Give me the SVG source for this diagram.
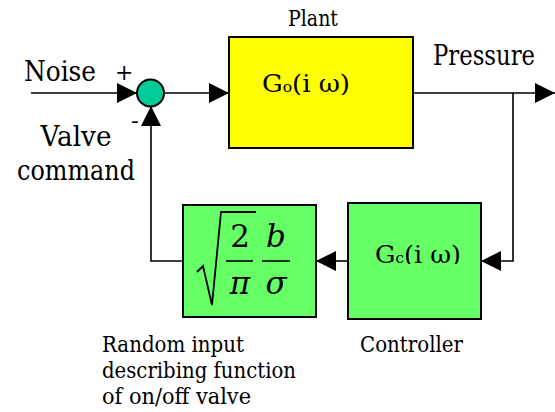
<svg xmlns="http://www.w3.org/2000/svg" width="555" height="412" viewBox="0 0 555 412">
<style>
.box{stroke:#000;stroke-width:2}
.ln{fill:none;stroke:#000;stroke-width:1.6}
.m{font-style:italic;font-size:31px;text-anchor:middle}
</style>
<defs>
<marker id="ah" viewBox="0 0 20 20" refX="20" refY="10" markerWidth="20" markerHeight="20" markerUnits="userSpaceOnUse" orient="auto">
<path d="M0,0 L20,10 L0,20 z" fill="#000"/>
</marker>
<clipPath id="c1"><rect x="229" y="37" width="184" height="58"/></clipPath>
<clipPath id="c2"><rect x="348" y="203" width="133" height="61"/></clipPath>
</defs>
<rect width="555" height="412" fill="#fff"/>
<g id="connectors">
<path class="ln" d="M31,93 L137,93" marker-end="url(#ah)"/>
<path class="ln" d="M164,93 L229,93" marker-end="url(#ah)"/>
<path class="ln" d="M413,93 L555,93" marker-end="url(#ah)"/>
<path class="ln" d="M513,93 L513,261 L481,261" marker-end="url(#ah)"/>
<path class="ln" d="M348,261 L316,261" marker-end="url(#ah)"/>
<path class="ln" d="M183,261 L151,261 L151,106" marker-end="url(#ah)"/>
</g>
<g font-family="DejaVu Serif, serif" fill="#000">
<g id="sum">
<circle cx="150.5" cy="93" r="13.5" fill="#00CC99" stroke="#000" stroke-width="2"/>
<text x="115" y="80" font-size="22">+</text>
<text x="131" y="128" font-size="23">-</text>
</g>
<g id="plant">
<rect class="box" x="229" y="37" width="184" height="111" fill="#FFFF00"/>
<text x="288" y="26" font-size="22" textLength="50" lengthAdjust="spacingAndGlyphs">Plant</text>
<text x="262" y="92" font-size="25" textLength="88" lengthAdjust="spacingAndGlyphs" clip-path="url(#c1)">G<tspan font-size="15">o</tspan>(i ω)</text>
</g>
<g id="controller">
<rect class="box" x="348" y="203" width="133" height="116" fill="#66FF66"/>
<text x="375" y="263" font-size="23.5" textLength="86" lengthAdjust="spacingAndGlyphs" clip-path="url(#c2)">G<tspan font-size="14">c</tspan>(i ω)</text>
</g>
<g id="describing">
<rect class="box" x="183" y="205" width="133" height="112" fill="#66FF66"/>
<path d="M197,272 L203,266 L212,305 L221,212 L256,212" fill="none" stroke="#000" stroke-width="1.8"/>
<text x="240" y="247" font-size="31" text-anchor="middle">2</text>
<line x1="226" y1="261" x2="253" y2="261" stroke="#000" stroke-width="1.6"/>
<text class="m" x="240" y="294">π</text>
<text class="m" x="276" y="247">b</text>
<line x1="262" y1="261" x2="290" y2="261" stroke="#000" stroke-width="1.6"/>
<text class="m" x="276" y="294">σ</text>
</g>
<g id="labels">
<text x="24" y="81" font-size="27" textLength="72" lengthAdjust="spacingAndGlyphs">Noise</text>
<text x="433" y="65" font-size="27" textLength="102" lengthAdjust="spacingAndGlyphs">Pressure</text>
<text x="40.5" y="146" font-size="27" textLength="71" lengthAdjust="spacingAndGlyphs">Valve</text>
<text x="17" y="180" font-size="27" textLength="118" lengthAdjust="spacingAndGlyphs">command</text>
<text x="102" y="352" font-size="22.5" textLength="142" lengthAdjust="spacingAndGlyphs">Random input</text>
<text x="102" y="378" font-size="22.5" textLength="194" lengthAdjust="spacingAndGlyphs">describing function</text>
<text x="102" y="404" font-size="22.5" textLength="149" lengthAdjust="spacingAndGlyphs">of on/off valve</text>
<text x="360" y="352" font-size="22.5" textLength="103" lengthAdjust="spacingAndGlyphs">Controller</text>
</g>
</g>
</svg>
